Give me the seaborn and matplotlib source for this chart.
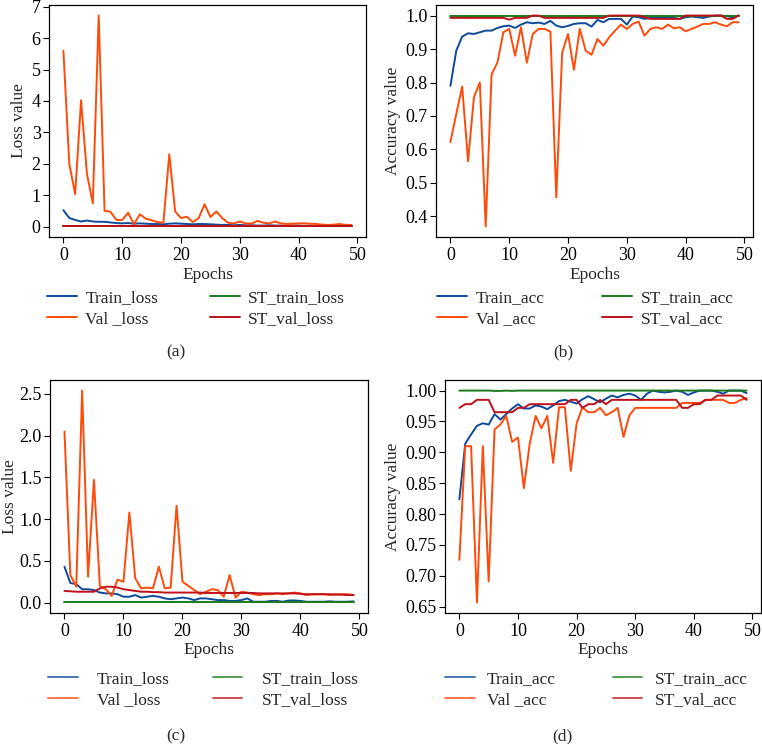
import numpy as np
import pandas as pd
import matplotlib
matplotlib.use("Agg")
import matplotlib.pyplot as plt
import seaborn as sns

epochs = list(range(50))

# Panel (a) - loss
a_train_loss = [0.52,0.27,0.21,0.16,0.19,0.16,0.15,0.15,0.13,0.11,0.10,0.11,0.09,0.10,0.09,0.08,0.08,0.07,0.09,0.10,
                0.09,0.08,0.07,0.08,0.08,0.07,0.06,0.05,0.05,0.04,0.05,0.04,0.04,0.03,0.03,0.04,0.03,0.03,0.02,0.03,
                0.03,0.02,0.03,0.02,0.02,0.02,0.03,0.02,0.02,0.02]
a_val_loss = [5.60,2.00,1.03,4.02,1.68,0.74,6.72,0.50,0.47,0.21,0.21,0.44,0.07,0.39,0.25,0.20,0.14,0.12,2.30,0.48,
              0.27,0.31,0.14,0.27,0.71,0.30,0.48,0.27,0.12,0.10,0.16,0.10,0.09,0.18,0.12,0.10,0.16,0.10,0.08,0.09,
              0.10,0.10,0.09,0.08,0.06,0.05,0.06,0.08,0.05,0.05]
a_st_train_loss = [0.002]*50
a_st_val_loss = [0.03]*50

# Panel (b) - accuracy
b_train_acc = [0.790,0.895,0.937,0.947,0.945,0.950,0.955,0.955,0.963,0.968,0.970,0.963,0.973,0.980,0.977,0.979,0.975,0.984,0.970,0.965,
               0.969,0.975,0.977,0.977,0.967,0.987,0.980,0.990,0.990,0.990,0.973,0.997,0.995,0.990,0.993,0.993,0.993,0.995,0.993,0.990,
               0.995,0.997,0.995,0.993,0.997,1.000,1.000,0.998,0.995,1.000]
b_val_acc = [0.622,0.706,0.788,0.565,0.756,0.800,0.370,0.824,0.860,0.950,0.960,0.880,0.965,0.859,0.945,0.960,0.960,0.952,0.457,0.889,
             0.945,0.838,0.960,0.895,0.883,0.930,0.910,0.935,0.955,0.973,0.960,0.975,0.982,0.940,0.960,0.965,0.960,0.973,0.962,0.965,
             0.953,0.960,0.967,0.975,0.975,0.980,0.973,0.968,0.980,0.980]
b_st_train_acc = [1.0]*50
b_st_val_acc = [0.993]*10 + [0.988] + [0.993]*3 + [1.0]*2 + [0.993]*11 + [1.0]*6 + [0.995] + [0.990]*6 + [1.0]*7 + [0.990]*2 + [1.0]

# Panel (c) - loss
c_train_loss = [0.43,0.235,0.22,0.16,0.16,0.15,0.12,0.11,0.11,0.10,0.07,0.07,0.09,0.06,0.07,0.08,0.07,0.05,0.04,0.05,
                0.06,0.05,0.03,0.05,0.05,0.04,0.03,0.03,0.02,0.02,0.03,0.05,0.01,0.01,0.01,0.02,0.02,0.01,0.025,0.025,
                0.02,0.01,0.01,0.01,0.01,0.015,0.01,0.01,0.01,0.015]
c_val_loss = [2.05,0.33,0.19,2.54,0.31,1.47,0.20,0.16,0.08,0.275,0.25,1.08,0.29,0.17,0.18,0.17,0.43,0.17,0.18,1.16,
              0.25,0.20,0.15,0.10,0.13,0.16,0.15,0.07,0.33,0.06,0.13,0.12,0.10,0.09,0.10,0.10,0.11,0.10,0.11,0.12,
              0.11,0.09,0.10,0.10,0.10,0.09,0.10,0.10,0.10,0.09]
c_st_train_loss = [0.002]*50
c_st_val_loss = [0.14,0.135,0.13,0.13,0.13,0.13,0.17,0.19,0.19,0.18,0.16,0.15,0.14,0.13,0.13,0.125,0.125,0.12,0.12,0.12,
                 0.12,0.12,0.12,0.12,0.115,0.115,0.115,0.115,0.115,0.115,0.115,0.115,0.115,0.11,0.11,0.11,0.11,0.11,0.11,0.11,
                 0.105,0.10,0.10,0.10,0.10,0.10,0.095,0.095,0.09,0.09]

# Panel (d) - accuracy
d_train_acc = [0.824,0.914,0.929,0.943,0.947,0.945,0.962,0.953,0.962,0.971,0.978,0.971,0.971,0.976,0.974,0.970,0.976,0.983,0.985,0.982,
               0.979,0.986,0.991,0.986,0.981,0.987,0.992,0.989,0.993,0.995,0.992,0.985,0.995,1.000,0.998,0.997,0.998,1.000,0.998,0.993,
               0.997,1.000,1.000,1.000,0.998,0.995,1.000,1.000,1.000,0.996]
d_val_acc = [0.726,0.910,0.910,0.657,0.910,0.691,0.937,0.945,0.959,0.917,0.924,0.842,0.914,0.959,0.939,0.959,0.883,0.973,0.973,0.870,
             0.947,0.973,0.965,0.965,0.972,0.960,0.965,0.972,0.925,0.960,0.972,0.972,0.972,0.972,0.972,0.972,0.972,0.972,0.980,0.980,
             0.980,0.980,0.985,0.985,0.985,0.985,0.980,0.980,0.985,0.988]
d_st_train_acc = [1.0,1.0,1.0,1.0,1.0,1.0,0.9995,0.9995,1.0,0.9995,1.0,1.0,1.0,1.0,1.0,1.0,1.0,1.0,1.0,1.0,
                  1.0,1.0,1.0,1.0,1.0,1.0,1.0,1.0,1.0,1.0,1.0,1.0,1.0,1.0,1.0,1.0,1.0,1.0,1.0,1.0,
                  1.0,1.0,1.0,1.0,1.0,1.0,1.0,1.0,1.0,1.0]
d_st_val_acc = [0.972,0.978,0.978,0.985,0.985,0.985,0.965,0.965,0.965,0.965,0.972,0.972,0.978,0.978,0.978,0.978,0.978,0.978,0.978,0.985,
                0.985,0.972,0.978,0.978,0.985,0.978,0.985,0.985,0.985,0.985,0.985,0.985,0.985,0.985,0.985,0.985,0.985,0.985,0.972,0.972,
                0.978,0.978,0.985,0.985,0.992,0.992,0.992,0.992,0.992,0.985]

loss_labels = ["Train_loss", "Val _loss", "ST_train_loss", "ST_val_loss"]
acc_labels = ["Train_acc", "Val _acc", "ST_train_acc", "ST_val_acc"]
colors = ["#0d4a9a", "#ff4a0a", "#1a7a1a", "#c0101a"]

sns.set_theme(style="ticks")
plt.rcParams["font.family"] = ["Liberation Serif", "DejaVu Serif"]

fig = plt.figure(figsize=(7.62, 7.44), dpi=100)

W, H = 762.0, 744.0
def axes_px(l, r, t, b):
    return fig.add_axes([l / W, 1 - b / H, (r - l) / W, (b - t) / H])

panels = [
    dict(box=(49, 366, 5, 237), series=[a_train_loss, a_val_loss, a_st_train_loss, a_st_val_loss],
         labels=loss_labels, ylabel="Loss value", yticks=[0,1,2,3,4,5,6,7], yfmt="{:.0f}",
         leg=(47, 290), hpad=0.5, cspace=3.0, tag="(a)", tagpos=(176, 352), alpha=1.0, lpad=3),
    dict(box=(436, 753, 5, 237), series=[b_train_acc, b_val_acc, b_st_train_acc, b_st_val_acc],
         labels=acc_labels, ylabel="Accuracy value", yticks=[0.4,0.5,0.6,0.7,0.8,0.9,1.0], yfmt="{:.1f}",
         leg=(437, 290), hpad=0.55, cspace=3.3, tag="(b)", tagpos=(563, 352), alpha=1.0, lpad=3),
    dict(box=(50, 368, 380, 613), series=[c_train_loss, c_val_loss, c_st_train_loss, c_st_val_loss],
         labels=loss_labels, ylabel="Loss value", yticks=[0.0,0.5,1.0,1.5,2.0,2.5], yfmt="{:.1f}",
         leg=(48, 671), hpad=1.1, cspace=2.5, tag="(c)", tagpos=(176, 736), alpha=0.75, lpad=1),
    dict(box=(445, 761, 380, 613), series=[d_train_acc, d_val_acc, d_st_train_acc, d_st_val_acc],
         labels=acc_labels, ylabel="Accuracy value", yticks=[0.65,0.70,0.75,0.80,0.85,0.90,0.95,1.00], yfmt="{:.2f}",
         leg=(445, 671), hpad=0.7, cspace=3.3, tag="(d)", tagpos=(562, 736), alpha=0.75, lpad=3),
]

FS = 12.5
TFS = 13
for p in panels:
    ax = axes_px(*p["box"])
    for vals, lab, col in zip(p["series"], p["labels"], colors):
        sns.lineplot(x=epochs, y=vals, ax=ax, color=col, linewidth=1.4, label=lab, legend=False)
    ax.set_xticks([0, 10, 20, 30, 40, 50])
    ax.set_yticks(p["yticks"])
    ax.set_yticklabels([p["yfmt"].format(v) for v in p["yticks"]])
    ax.tick_params(labelsize=TFS, length=4, width=0.8, colors="black", pad=3)
    ax.tick_params(axis="y", pad=2)
    ax.set_xlabel("Epochs", fontsize=FS, labelpad=2)
    ax.set_ylabel(p["ylabel"], fontsize=FS, labelpad=p["lpad"])
    for s in ax.spines.values():
        s.set_visible(True)
        s.set_linewidth(0.9)
        s.set_color("black")
    ax.set_facecolor("white")
    handles, labels = ax.get_legend_handles_labels()
    leg = ax.legend(handles, labels, loc="upper left", ncol=2, frameon=False,
                    bbox_to_anchor=(p["leg"][0] / W, 1 - p["leg"][1] / H), bbox_transform=fig.transFigure,
                    borderaxespad=0, borderpad=0, handlelength=1.7, handletextpad=p["hpad"],
                    columnspacing=p["cspace"], labelspacing=0.3, fontsize=FS)
    for h in leg.get_lines():
        h.set_alpha(p["alpha"])
    fig.text(p["tagpos"][0] / W, 1 - p["tagpos"][1] / H, p["tag"], ha="center", va="center", fontsize=FS)

fig.savefig("out.png", dpi=100, facecolor="white")
